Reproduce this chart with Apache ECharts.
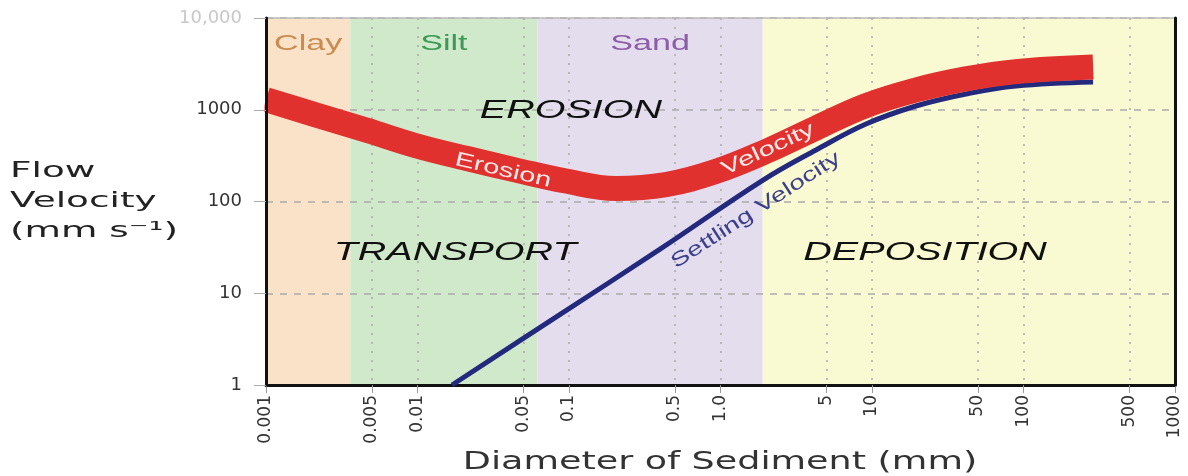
<!DOCTYPE html>
<html>
<head>
<meta charset="utf-8">
<script src="https://cdn.jsdelivr.net/npm/echarts@6/dist/echarts.min.js"></script>
<style>
html, body { margin: 0; padding: 0; background: #fff; }
#chart { width: 1188px; height: 476px; }
</style>
</head>
<body>
<div id="chart"></div>
<script>
// x axis tick labels, diameter in mm
var diameterTicks = [0.001, 0.005, 0.01, 0.05, 0.1, 0.5, 1, 5, 10, 50, 100, 500, 1000];

// grain size classes (mm)
var classNames = ['Clay', 'Silt', 'Sand', ''];
var classFrom = [0.001, 0.0036, 0.062, 1.9];
var classTo = [0.0036, 0.062, 1.9, 1000];

// erosion velocity (mm/s) against diameter (mm)
var erosionDiameter = [0.001, 0.00214, 0.00457, 0.00977, 0.0209, 0.0447, 0.0955, 0.204, 0.436, 0.933, 2.0, 4.27, 9.12, 19.5, 41.7, 89.1, 288];
var erosionVelocity = [1290, 877, 602, 406, 296, 220, 167, 139, 153, 213, 352, 632, 1109, 1641, 2168, 2606, 2924];

// settling velocity (mm/s) against diameter (mm)
var settlingDiameter = [0.0169, 0.082, 0.399, 1.91, 4.27, 9.12, 19.5, 41.7, 89.1, 288];
var settlingVelocity = [1, 5.5, 30.2, 171, 364, 699, 1099, 1485, 1815, 2005];

// zone names and where they sit (diameter, velocity)
var zoneNames = ['EROSION', 'TRANSPORT', 'DEPOSITION'];
var zoneDiameter = [0.103, 0.0177, 22.4];
var zoneVelocity = [968, 27.5, 27.5];

var classColors = ['#f9e2c8', '#d0e9cb', '#e4ddee', '#fafad2'];
var classTextColors = ['#c98b50', '#3c9a56', '#8c5da8', '#000'];

function pairs(xs, ys) {
    var out = [];
    for (var i = 0; i < xs.length; i++) out.push([xs[i], ys[i]]);
    return out;
}

var classData = [];
for (var i = 0; i < classFrom.length; i++) {
    classData.push([classFrom[i], classTo[i], i]);
}

var chart = echarts.init(document.getElementById('chart'));
var option = {
    animation: false,
    grid: { left: 266, right: 13, top: 18, bottom: 91, show: false },
    xAxis: [{
        type: 'log',
        logBase: 10,
        min: 0.001,
        max: 1000,
        axisLine: { show: true, lineStyle: { color: '#111', width: 3 } },
        axisTick: { show: true, customValues: diameterTicks, length: 8, lineStyle: { color: '#999' } },
        axisLabel: {
            customValues: diameterTicks,
            rotate: 90,
            margin: 10,
            fontSize: 17,
            fontFamily: 'DejaVu Sans',
            color: '#333',
            formatter: function (v) {
                return Math.abs(v - 1) < 1e-9 ? '1.0' : String(v);
            }
        },
        splitLine: { show: true, lineStyle: { color: '#aaa', type: [2, 7], width: 1.5 } }
    }, {
        type: 'log',
        logBase: 10,
        min: 0.001,
        max: 1000,
        position: 'top',
        axisLine: { show: true, lineStyle: { color: '#bbb', width: 1.5 } },
        axisTick: { show: false },
        axisLabel: { show: false },
        splitLine: { show: false }
    }],
    yAxis: [{
        // left axis line, ticks and labels kept above the curves
        type: 'log',
        logBase: 10,
        min: 1,
        max: 10000,
        z: 10,
        axisLine: { show: true, lineStyle: { color: '#111', width: 3 } },
        axisTick: { show: true, length: 12, lineStyle: { color: '#aaa' } },
        axisLabel: {
            margin: 24,
            fontSize: 18,
            fontFamily: 'DejaVu Sans',
            color: function (v) {
                return Math.round(v) >= 10000 ? '#c8c8c8' : '#333';
            },
            formatter: function (v) {
                return Math.round(v) >= 10000 ? '10,000' : String(Math.round(v));
            }
        },
        splitLine: { show: false }
    }, {
        type: 'log',
        logBase: 10,
        min: 1,
        max: 10000,
        position: 'right',
        z: 10,
        axisLine: { show: true, lineStyle: { color: '#111', width: 3 } },
        axisTick: { show: false },
        axisLabel: { show: false },
        splitLine: { show: false }
    }, {
        // horizontal grid lines only, under the curves
        type: 'log',
        logBase: 10,
        min: 1,
        max: 10000,
        position: 'left',
        axisLine: { show: false },
        axisTick: { show: false },
        axisLabel: { show: false },
        splitLine: { show: true, lineStyle: { color: '#aaa', type: [7, 7], width: 1.5 } }
    }],
    series: [
        {
            name: 'Grain size',
            type: 'custom',
            z: -1,
            silent: true,
            data: classData,
            renderItem: function (params, api) {
                var p0 = api.coord([api.value(0), 10000]);
                var p1 = api.coord([api.value(1), 1]);
                return {
                    type: 'rect',
                    shape: { x: p0[0], y: p0[1], width: p1[0] - p0[0], height: p1[1] - p0[1] },
                    style: { fill: classColors[api.value(2)] }
                };
            }
        },
        {
            name: 'Settling Velocity',
            type: 'line',
            smooth: 0.4,
            showSymbol: false,
            z: 2,
            lineStyle: { color: '#232a7e', width: 5 },
            data: pairs(settlingDiameter, settlingVelocity)
        },
        {
            name: 'Erosion Velocity',
            type: 'line',
            smooth: 0.4,
            showSymbol: false,
            z: 3,
            lineStyle: { color: '#e1312f', width: 25, cap: 'butt' },
            data: pairs(erosionDiameter, erosionVelocity)
        }
    ]
};
chart.setOption(option);

function px(d, v) {
    return chart.convertToPixel({ seriesIndex: 1 }, [d, v]);
}
function label(text, pos, font, fill, sx, rot) {
    return {
        type: 'text',
        x: pos[0],
        y: pos[1],
        z: 100,
        scaleX: sx,
        rotation: (rot || 0) * Math.PI / 180,
        silent: true,
        style: { text: text, font: font, fill: fill, textAlign: 'center', textVerticalAlign: 'middle' }
    };
}

var graphics = [];
// white strip left of the plot so the thick band ends flat at the axis
var topLeft = px(0.001, 10000), bottomLeft = px(0.001, 1);
graphics.push({
    type: 'rect', z: 5, silent: true,
    shape: { x: topLeft[0] - 20, y: topLeft[1], width: 18.5, height: bottomLeft[1] - topLeft[1] },
    style: { fill: '#fff' }
});
// grain size class names along the top
for (var k = 0; k < classNames.length; k++) {
    if (!classNames[k]) continue;
    var a = px(classFrom[k], 10000), b = px(classTo[k], 10000);
    graphics.push(label(classNames[k], [(a[0] + b[0]) / 2, a[1] + 26], '22px "Liberation Sans"', classTextColors[k], 1.55));
}
// zone names
for (var z = 0; z < zoneNames.length; z++) {
    graphics.push(label(zoneNames[z], px(zoneDiameter[z], zoneVelocity[z]), 'italic 25px "Liberation Sans"', '#111', 1.58));
}
// curve names
graphics.push(label('Erosion', px(0.0367, 218), '20px "Liberation Sans"', '#fde8e8', 1.45, -13));
graphics.push(label('Velocity', px(2.06, 370), '20px "Liberation Sans"', '#fde8e8', 1.45, 25));
graphics.push(label('Settling Velocity', px(1.71, 80), '20px "Liberation Sans"', '#3b3f8c', 1.4, 33));
// axis titles
graphics.push({
    type: 'text', x: 10, y: 156, scaleX: 1.7, z: 100, silent: true,
    style: { text: 'Flow\nVelocity\n(mm s\u207b\u00b9)', font: '22px "DejaVu Sans"', lineHeight: 30, fill: '#222', textAlign: 'left', textVerticalAlign: 'top' }
});
graphics.push(label('Diameter of Sediment (mm)', [720, 462], '25px "DejaVu Sans"', '#333', 1.46));

chart.setOption({ graphic: graphics });
</script>
</body>
</html>
